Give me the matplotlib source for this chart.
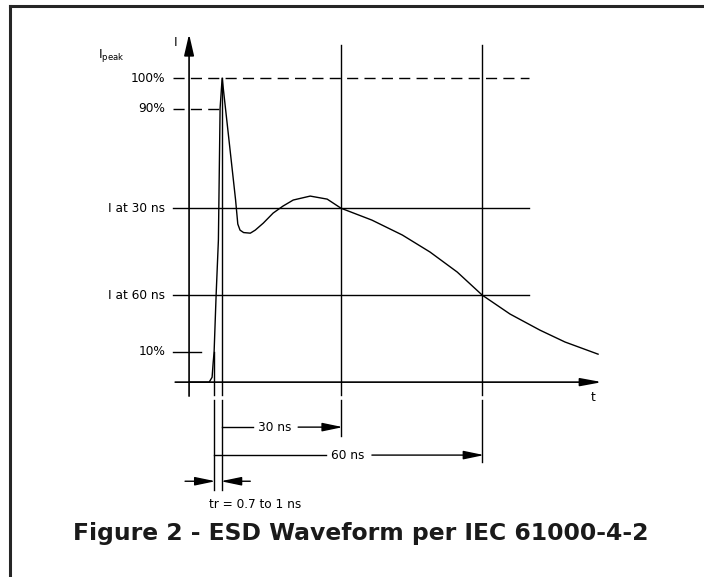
import matplotlib.pyplot as plt
from matplotlib.lines import Line2D

plt.rcParams['lines.scale_dashes'] = False

# waveform: time in ns (0 = 10% point), current in % of I peak
t_ns = [-5.6, -1.1, -0.45, -0.2, 0.0, 0.45, 0.96, 1.34, 1.8, 4.8, 5.3, 5.8, 6.6,
        8.1, 9.2, 11.0, 13.2, 15.4, 17.7, 21.5, 25.3, 28.4, 35.3, 42.1, 48.3,
        54.4, 60.0, 66.2, 72.9, 78.5, 85.9]
i_pct = [0, 0, 1.6, 6.6, 9.9, 28.6, 46.7, 90.1, 100, 60.0, 52.0, 50.0, 49.2,
         49.0, 50.0, 52.3, 55.6, 57.9, 59.9, 61.2, 60.2, 57.2, 53.3, 48.4, 42.8,
         36.2, 28.6, 22.4, 17.1, 13.2, 9.2]

level_labels = ['100%', '90%', 'I at 30 ns', 'I at 60 ns', '10%']
level_values = [100, 90, 57.2, 28.6, 10]
t_rise = [0.0, 1.8]      # 10% point and peak
t_marks = [28.4, 60.0]   # 30 ns and 60 ns points
rise_label = 'tr = 0.7 to 1 ns'
caption = 'Figure 2 - ESD Waveform per IEC 61000-4-2'

fig = plt.figure(figsize=(7.04, 5.77), dpi=100)
ax = fig.add_axes([0, 0, 1, 1])
ax.set_xlim(-47.9, 109.6)
ax.set_ylim(-64.1, 125.7)
ax.axis('off')

K = 'black'
LW = 1.0
small = dict(fontsize=8.7, color=K, family='DejaVu Sans')


def arrow(x0, y0, x1, y1, hl=1.25, hw=0.26, lw=LW):
    ax.annotate('', xy=(x1, y1), xytext=(x0, y0),
                arrowprops=dict(arrowstyle='-|>,head_length=%s,head_width=%s' % (hl, hw),
                                lw=lw, color=K, shrinkA=0, shrinkB=0,
                                mutation_scale=10))


# axes with arrows
y_axis_t = t_ns[0]
arrow(y_axis_t, -4.6, y_axis_t, 114.5, hl=1.3, hw=0.3, lw=1.2)
arrow(-8.7, 0, 86.8, 0, hl=1.3, hw=0.24, lw=1.2)
ax.text(-8.7, 111.8, 'I', ha='center', va='center', **small)
ax.text(84.8, -4.9, 't', ha='center', va='center', **small)
ax.text(-26, 107.6, r'I$_{\mathrm{peak}}$', ha='left', va='center', **small)

# level lines and labels
ends = [70.5, t_ns[7], 70.5, 70.5, -2.9]
for lab, v, end in zip(level_labels, level_values, ends):
    ls = (0, (8, 4.5)) if v >= 90 else '-'
    ax.plot([-9.2, end], [v, v], color=K, lw=LW, ls=ls)
    ax.text(-10.9, v, lab, ha='right', va='center', **small)

# waveform
ax.plot(t_ns, i_pct, color=K, lw=LW)

# vertical marker lines, broken just under the time axis
tops = [level_values[4], level_values[0], 110.9, 110.9]
bottoms = [-35.5, -35.5, -17.8, -26.3]
for t, top, bot in zip(t_rise + t_marks, tops, bottoms):
    ax.plot([t, t], [top, -4.3], color=K, lw=LW)
    ax.plot([t, t], [-6.0, bot], color=K, lw=LW)

# 30 ns dimension
ax.plot([t_rise[1], 8.7], [-14.8, -14.8], color=K, lw=LW)
arrow(18.8, -14.8, t_marks[0] + 0.4, -14.8)
ax.text(13.6, -14.8, '30 ns', ha='center', va='center', **small)

# 60 ns dimension
ax.plot([t_rise[0], 25.1], [-24.0, -24.0], color=K, lw=LW)
arrow(35.3, -24.0, t_marks[1] + 0.4, -24.0)
ax.text(29.8, -24.0, '60 ns', ha='center', va='center', **small)

# rise time dimension
arrow(-6.5, -32.6, t_rise[0] + 0.3, -32.6)
arrow(8.1, -32.6, t_rise[1] - 0.3, -32.6)
ax.text(9.2, -40.1, rise_label, ha='center', va='center', **small)

ax.text(32.9, -49.9, caption, ha='center', va='center', fontsize=16.9,
        fontweight='bold', family='DejaVu Sans', color='#1a1a1a')

# frame: top and left edges only
fx = 10 / 704
fy = 1 - 6 / 577
fig.add_artist(Line2D([fx, 1], [fy, fy], transform=fig.transFigure, lw=2.2, color='#262626'))
fig.add_artist(Line2D([fx, fx], [0, fy], transform=fig.transFigure, lw=2.2, color='#262626'))

fig.savefig('out.png', dpi=100)
